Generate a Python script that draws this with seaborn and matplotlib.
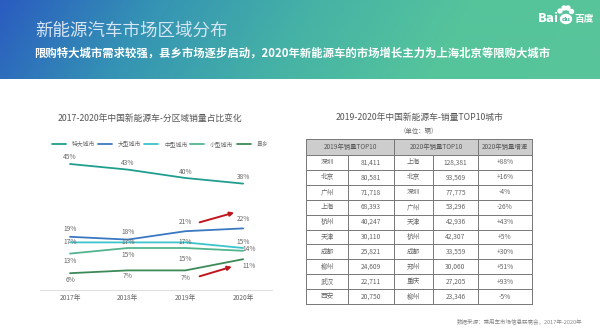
import numpy as np
import pandas as pd
import matplotlib
matplotlib.use("Agg")
import matplotlib.pyplot as plt
from matplotlib.colors import LinearSegmentedColormap
from matplotlib.patches import Rectangle, Circle, Ellipse
import seaborn as sns

sns.set_theme(style="white")
plt.rcParams['font.family'] = ['Noto Sans CJK SC', 'DejaVu Sans']

# ---------------- data ----------------
years = ["2017年", "2018年", "2019年", "2020年"]
series_names = ["特大城市", "大型城市", "中型城市", "小型城市", "县乡"]
s_tedai = [45, 43, 40, 38]
s_daxing = [19, 18, 21, 22]
s_zhongxing = [17, 17, 17, 15]
s_xiaoxing = [13, 15, 15, 14]
s_xianxiang = [6, 7, 7, 11]
series_colors = ["#1f9e8e", "#3a78c2", "#3cc4cc", "#52b48f", "#3d8a58"]

cities_2019 = ["深圳", "北京", "广州", "上海", "杭州", "天津", "成都", "柳州", "武汉", "西安"]
sales_2019 = ["81,411", "80,581", "71,718", "68,393", "40,247", "30,110", "25,821", "24,609", "22,711", "20,750"]
cities_2020 = ["上海", "北京", "深圳", "广州", "天津", "杭州", "成都", "郑州", "重庆", "柳州"]
sales_2020 = ["128,381", "93,569", "77,775", "53,296", "42,936", "42,307", "33,559", "30,060", "27,205", "23,346"]
growth_2020 = ["+88%", "+16%", "-4%", "-26%", "+43%", "+5%", "+30%", "+51%", "+93%", "-5%"]
table_headers = ["2019年销量TOP10", "2020年销量TOP10", "2020年销量增速"]

W, H = 600, 334
fig = plt.figure(figsize=(6.0, 3.34), dpi=100)
fig.patch.set_facecolor("white")

# ---------------- header band ----------------
band_top = 79
axh = fig.add_axes([0, 1 - band_top / H, 1, band_top / H])
cmap = LinearSegmentedColormap.from_list("band", ["#2a5cc0", "#3594b4", "#45b2a6", "#55c49c", "#58c49a"])
grad = np.linspace(0, 1, 300)[None, :] + np.linspace(0, 0.08, 40)[:, None]
axh.imshow(grad, aspect="auto", cmap=cmap, extent=[0, 1, 0, 1], vmin=0, vmax=1.05)
axh.set_xlim(0, 1); axh.set_ylim(0, 1)
axh.axis("off")

fig.text(35 / W, 1 - 31 / H, "新能源汽车市场区域分布", color="#d6e6f4", fontsize=12.6,
         fontweight="light", va="center", ha="left")
fig.text(34 / W, 1 - 53 / H, "限购特大城市需求较强，县乡市场逐步启动，2020年新能源车的市场增长主力为上海北京等限购大城市",
         color="white", fontsize=8.2, fontweight="bold", va="center", ha="left")
# Baidu logo (text + paw)
fig.text(538 / W, 1 - 19 / H, "Bai", color="white", fontsize=8.5, fontweight="bold", va="center", ha="left",
         family=["DejaVu Sans"])
fig.text(574 / W, 1 - 19 / H, "百度", color="white", fontsize=7, fontweight="bold", va="center", ha="left")
axl = fig.add_axes([555 / W, 1 - 26 / H, 20 / W, 22 / H])
axl.set_xlim(0, 20); axl.set_ylim(0, 22); axl.axis("off")
for (cx, cy, r) in [(5, 15, 2), (9, 18, 2), (13, 18, 2), (16.5, 14.5, 2)]:
    axl.add_patch(Circle((cx, cy), r, color="white"))
axl.add_patch(Ellipse((11, 7), 11, 9, color="white"))
axl.text(11, 6.5, "du", color="#4fb6a0", fontsize=4.5, ha="center", va="center", family=["DejaVu Sans"],
         fontweight="bold")

# ---------------- left line chart ----------------
ax = fig.add_axes([40 / W, 1 - 290 / H, 232 / W, 140 / H])
df = pd.DataFrame({
    "year": years * 5,
    "x": list(range(4)) * 5,
    "value": s_tedai + s_daxing + s_zhongxing + s_xiaoxing + s_xianxiang,
    "series": sum([[n] * 4 for n in series_names], []),
})
sns.lineplot(data=df, x="x", y="value", hue="series", palette=dict(zip(series_names, series_colors)),
             hue_order=series_names, linewidth=1.3, ax=ax, legend=False)
ax.set_xlim(-0.52, 3.5)
ax.set_ylim(0, 50)
ax.set_xticks(range(4))
ax.set_xticklabels(years, fontsize=4.8, color="#666666")
ax.set_yticks([])
ax.set_xlabel(""); ax.set_ylabel("")
for s in ["top", "left", "right"]:
    ax.spines[s].set_visible(False)
ax.spines["bottom"].set_color("#dddddd")
ax.spines["bottom"].set_linewidth(0.7)
ax.tick_params(axis="x", length=0, pad=3)

lab_kw = dict(fontsize=4.8, color="#666666", ha="center", va="center")
all_series = [s_tedai, s_daxing, s_zhongxing, s_xiaoxing, s_xianxiang]
# label offsets (in data units) per series / point
offsets = [
    [(0, 2.6), (0, 2.2), (0, 2.0), (0, 2.4)],
    [(0, 2.8), (0, 2.8), (0, 3.2), (0, 3.2)],
    [(0, 0), (0, 0), (0, 0), (0, 2.3)],
    [(0, -2.6), (0, -2.6), (0, -3.8), (0.1, 0.6)],
    [(0, -2.6), (0, -2.0), (0, -2.8), (0.1, -2.3)],
]
for vals, offs in zip(all_series, offsets):
    for i, v in enumerate(vals):
        ax.text(i + offs[i][0], v + offs[i][1], f"{v}%", **lab_kw)

# red arrows
ax.annotate("", xy=(2.89, 27.9), xytext=(2.2, 23.9),
            arrowprops=dict(arrowstyle="-|>", color="#c0161e", lw=1.4, mutation_scale=6))
ax.annotate("", xy=(2.85, 8.6), xytext=(2.2, 4.6),
            arrowprops=dict(arrowstyle="-|>", color="#c0161e", lw=1.4, mutation_scale=6))

fig.text(150 / W, 1 - 118 / H, "2017-2020年中国新能源车-分区域销量占比变化", fontsize=6.3,
         color="#555555", ha="center", va="center")
handles = [plt.Line2D([], [], color=c, lw=1.3) for c in series_colors]
fig.legend(handles, series_names, loc="center", bbox_to_anchor=(160 / W, 1 - 144 / H), ncol=5,
           frameon=False, fontsize=4.2, handlelength=2.4, handletextpad=1.0, columnspacing=0.5,
           labelcolor="#666666")

# ---------------- right table ----------------
axt = fig.add_axes([0, 0, 1, 1])
axt.set_xlim(0, W); axt.set_ylim(H, 0); axt.axis("off")
col_edges = [306, 348, 394, 433, 478, 532]
head_top, head_bot = 139, 155
row_h = (304 - head_bot) / 10
line_c = "#777777"
axt.add_patch(Rectangle((col_edges[0], head_top), col_edges[-1] - col_edges[0], head_bot - head_top,
                        facecolor="#cdcdcd", edgecolor="none"))
hx = [(col_edges[0] + col_edges[2]) / 2, (col_edges[2] + col_edges[4]) / 2, (col_edges[4] + col_edges[5]) / 2]
for x, t in zip(hx, table_headers):
    axt.text(x, (head_top + head_bot) / 2, t, fontsize=4.6, color="#555555", ha="center", va="center")
cols = [cities_2019, sales_2019, cities_2020, sales_2020, growth_2020]
for ci, col in enumerate(cols):
    xc = (col_edges[ci] + col_edges[ci + 1]) / 2
    for ri, val in enumerate(col):
        yc = head_bot + (ri + 0.5) * row_h
        axt.text(xc, yc, val, fontsize=4.8, color="#666666", ha="center", va="center")
# horizontal lines
for ri in range(11):
    y = head_bot + ri * row_h
    axt.plot([col_edges[0], col_edges[-1]], [y, y], color=line_c, lw=0.7)
axt.plot([col_edges[0], col_edges[-1]], [head_top, head_top], color=line_c, lw=0.7)
# vertical lines
for i, x in enumerate(col_edges):
    y0 = head_top if i in (0, 2, 4, 5) else head_bot
    axt.plot([x, x], [y0, 304], color=line_c, lw=0.7)

axt.text(419, 117, "2019-2020年中国新能源车-销量TOP10城市", fontsize=6.3, color="#555555",
         ha="center", va="center")
axt.text(419, 131, "（单位：辆）", fontsize=4.6, color="#666666", ha="center", va="center")
axt.text(582, 322, "数据来源：乘用车市场信息联席会，2017年-2020年", fontsize=4, color="#888888",
         ha="right", va="center")

fig.savefig("out.png", dpi=100, facecolor="white")
